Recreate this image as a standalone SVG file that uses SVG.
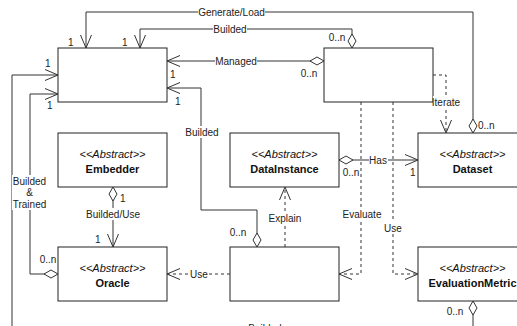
<svg xmlns="http://www.w3.org/2000/svg" width="517" height="326" viewBox="0 0 517 326">
<style>
.box{fill:#fff;stroke:#222;stroke-width:1}
.e{fill:none;stroke:#333;stroke-width:1}
.d{stroke-dasharray:3 3}
.t{font-family:"Liberation Sans",Arial,sans-serif;font-size:10px;fill:#222}
.m{text-anchor:middle}
.ab{font-family:"Liberation Sans",Arial,sans-serif;font-size:11px;font-style:italic;text-anchor:middle;fill:#111}
.nm{font-family:"Liberation Sans",Arial,sans-serif;font-size:11px;font-weight:bold;text-anchor:middle;fill:#111}
.bg{fill:#fff}
</style>
<defs>
<marker id="arr" markerUnits="userSpaceOnUse" viewBox="-15 -10 20 20" refX="0" refY="0" markerWidth="20" markerHeight="20" orient="auto" overflow="visible">
<path d="M-13,-5.5 L0,0 L-13,5.5" fill="none" stroke="#333" stroke-width="1" stroke-dasharray="none"/>
</marker>
<marker id="dia" markerUnits="userSpaceOnUse" viewBox="-2 -6 18 12" refX="0" refY="0" markerWidth="18" markerHeight="12" orient="auto" overflow="visible">
<path d="M0,0 L7,-4 L14,0 L7,4 Z" fill="#fff" stroke="#333" stroke-width="1" stroke-dasharray="none"/>
</marker>
</defs>
<rect width="517" height="326" fill="#fff"/>

<g id="boxA"><rect class="box" x="58" y="48" width="109" height="54"/></g>
<g id="boxB"><rect class="box" x="324" y="48" width="109" height="54"/></g>
<g id="embedder"><rect class="box" x="58" y="133" width="109" height="54"/>
<text class="ab" x="112.5" y="157.5">&lt;&lt;Abstract&gt;&gt;</text>
<text class="nm" x="112.5" y="173">Embedder</text></g>
<g id="datainstance"><rect class="box" x="230" y="133" width="109" height="54"/>
<text class="ab" x="284.5" y="157.5">&lt;&lt;Abstract&gt;&gt;</text>
<text class="nm" x="284.5" y="173">DataInstance</text></g>
<g id="dataset"><rect class="box" x="418" y="133" width="109" height="54"/>
<text class="ab" x="472.5" y="157.5">&lt;&lt;Abstract&gt;&gt;</text>
<text class="nm" x="472.5" y="173">Dataset</text></g>
<g id="oracle"><rect class="box" x="58" y="247" width="109" height="54"/>
<text class="ab" x="112.5" y="271.5">&lt;&lt;Abstract&gt;&gt;</text>
<text class="nm" x="112.5" y="287">Oracle</text></g>
<g id="boxC"><rect class="box" x="230" y="247" width="109" height="54"/></g>
<g id="evaluationmetric"><rect class="box" x="418" y="247" width="109" height="54"/>
<text class="ab" x="472.5" y="271.5">&lt;&lt;Abstract&gt;&gt;</text>
<text class="nm" x="472.5" y="287">EvaluationMetric</text></g>

<g id="connectors">
<path class="e" d="M473,133 L473,12 L86,12 L86,48" marker-start="url(#dia)" marker-end="url(#arr)"/>
<path class="e" d="M352,48 L352,29 L140,29 L140,48" marker-start="url(#dia)" marker-end="url(#arr)"/>
<path class="e" d="M324,61 L167,61" marker-start="url(#dia)" marker-end="url(#arr)"/>
<path class="e" d="M257,247 L257,210 L201,210 L201,88 L167,88" marker-start="url(#dia)" marker-end="url(#arr)"/>
<path class="e" d="M473,301 L473,330 L12,330 L12,75 L58,75" marker-start="url(#dia)" marker-end="url(#arr)"/>
<path class="e" d="M58,274 L30,274 L30,94 L58,94" marker-start="url(#dia)" marker-end="url(#arr)"/>
<path class="e" d="M113,187 L113,247" marker-start="url(#dia)" marker-end="url(#arr)"/>
<path class="e d" d="M230,274 L167,274" marker-end="url(#arr)"/>
<path class="e d" d="M285,247 L285,187" marker-end="url(#arr)"/>
<path class="e" d="M339,160 L418,160" marker-start="url(#dia)" marker-end="url(#arr)"/>
<path class="e d" d="M361,102 L361,274 L339,274" marker-end="url(#arr)"/>
<path class="e d" d="M393,102 L393,274 L418,274" marker-end="url(#arr)"/>
<path class="e d" d="M433,75 L446,75 L446,133" marker-end="url(#arr)"/>

<g id="edge-labels">
<rect class="bg" x="198" y="6" width="67" height="12"/>
<text class="t m" x="231.5" y="15.5">Generate/Load</text>
<rect class="bg" x="213" y="23" width="34" height="12"/>
<text class="t m" x="230" y="32.5">Builded</text>
<rect class="bg" x="215" y="55" width="42" height="12"/>
<text class="t m" x="236" y="64.5">Managed</text>
<rect class="bg" x="185" y="126" width="34" height="12"/>
<text class="t m" x="202" y="135.5">Builded</text>
<rect class="bg" x="12" y="175" width="36" height="35"/>
<text class="t m" x="29.5" y="184.5">Builded</text>
<text class="t m" x="29.5" y="196">&amp;</text>
<text class="t m" x="29.5" y="207.5">Trained</text>
<rect class="bg" x="86" y="208" width="54" height="12"/>
<text class="t m" x="113" y="217.5">Builded/Use</text>
<rect class="bg" x="189" y="268" width="20" height="12"/>
<text class="t m" x="199" y="277.5">Use</text>
<rect class="bg" x="267" y="212" width="35" height="12"/>
<text class="t m" x="285" y="221.5">Explain</text>
<rect class="bg" x="369" y="154" width="19" height="12"/>
<text class="t m" x="378" y="163.5">Has</text>
<rect class="bg" x="342" y="208" width="40" height="12"/>
<text class="t m" x="362" y="217.5">Evaluate</text>
<rect class="bg" x="384" y="222" width="18" height="12"/>
<text class="t m" x="393" y="231.5">Use</text>
<rect class="bg" x="433" y="96" width="27" height="12"/>
<text class="t m" x="446" y="105.5">Iterate</text>
<rect class="bg" x="246" y="322" width="38" height="12"/>
<text class="t m" x="265" y="331.5">Builded</text>

<text class="t" x="68" y="45.5">1</text>
<text class="t" x="122" y="45.5">1</text>
<text class="t m" x="337" y="40.5">0..n</text>
<text class="t" x="170" y="77.5">1</text>
<text class="t m" x="309" y="77">0..n</text>
<text class="t" x="175" y="104.5">1</text>
<text class="t" x="45" y="66.5">1</text>
<text class="t" x="47" y="108.5">1</text>
<text class="t m" x="48" y="262.5">0..n</text>
<text class="t" x="120" y="201.5">1</text>
<text class="t" x="95" y="243">1</text>
<text class="t m" x="238" y="235.5">0..n</text>
<text class="t m" x="351" y="175.5">0..n</text>
<text class="t" x="410" y="175.5">1</text>
<text class="t" x="478" y="128.5">0..n</text>
<text class="t m" x="455" y="314.5">0..n</text>
</g>
</g>
</svg>
